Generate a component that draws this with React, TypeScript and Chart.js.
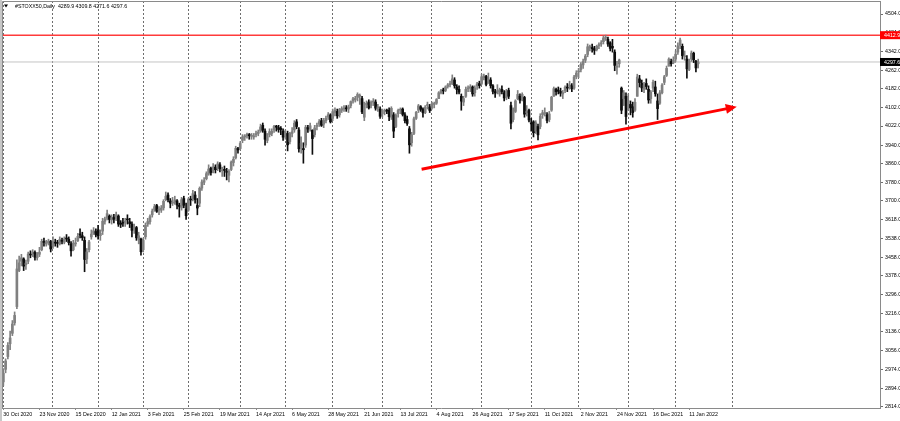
import React, { useEffect, useRef } from "react";
import { Chart, registerables } from "chart.js";

Chart.register(...registerables);

// ---------- data (daily bars, index 0 = 30 Oct 2020, index 308 = 17 Jan 2022) ----------
const opens = [
  2921, 2975, 3030, 3085, 3130, 3175, 3245, 3400, 3440, 3450, 3425, 3440, 3468, 3472, 3478, 3455, 3470, 3490, 3525, 3515, 3520, 3525,
  3505, 3522, 3520, 3515, 3530, 3522, 3540, 3535, 3515, 3490, 3515, 3528, 3555, 3550, 3530, 3450, 3490, 3545, 3560, 3568,
  3575, 3550, 3570, 3612, 3625, 3635, 3618, 3630, 3625, 3635, 3600, 3605, 3608, 3620, 3610, 3600, 3580, 3585, 3535, 3535,
  3490, 3545, 3600, 3610, 3640, 3660, 3680, 3660, 3660, 3670, 3705, 3725, 3700, 3690, 3695, 3700, 3680, 3670, 3710, 3665,
  3660, 3705, 3710, 3725, 3680, 3690, 3755, 3780, 3795, 3815, 3840, 3830, 3845, 3840, 3855, 3830, 3835, 3825, 3810, 3835, 3865, 3885, 3925,
  3925, 3960, 3975, 3980, 3985, 3978, 3975, 3985, 3990, 4000, 4025, 4000, 3960, 3985, 3990, 4005, 4018, 4015, 4012, 4000,
  3980, 3990, 3955, 3990, 4005, 4040, 4005, 3935, 3925, 3940, 4015, 4010, 4005, 3985, 4020, 4030, 4045, 4030, 4045, 4060, 4070,
  4055, 4080, 4085, 4070, 4090, 4095, 4100, 4095, 4110, 4130, 4135, 4145, 4150, 4140, 4060, 4115, 4125, 4110, 4125, 4125, 4100, 4095,
  4075, 4085, 4088, 4090, 4060, 4070, 4020, 4075, 4090, 4095, 4070, 4050, 4010, 3950, 3990, 4055, 4090, 4105, 4095, 4080, 4110, 4105,
  4100, 4115, 4120, 4140, 4165, 4175, 4175, 4192, 4200, 4205, 4220, 4190, 4180, 4150, 4125, 4150, 4182, 4185, 4190, 4165, 4195, 4205,
  4205, 4230, 4235, 4215, 4220, 4195, 4170, 4170, 4160, 4180, 4165, 4145, 4175, 4110, 4050, 4085, 4140, 4150, 4140, 4145, 4080, 4090,
  4035, 4040, 4000, 4020, 4020, 4070, 4075, 4070, 4050, 4090, 4150, 4180, 4175, 4170, 4160, 4175, 4190, 4195, 4195, 4185, 4235,
  4255, 4265, 4285, 4305, 4330, 4360, 4360, 4355, 4350, 4368, 4375, 4385, 4400, 4395, 4380, 4365, 4340, 4275, 4290, 4185, 4140, 4150,
  4100, 4115, 4105, 4090, 4150, 4225, 4205, 4180, 4205, 4180, 4140, 4185, 4190, 4130, 4120, 4165, 4210, 4240, 4280, 4300, 4295,
  4310, 4340, 4370, 4365, 4320, 4310, 4265, 4310, 4335, 4300, 4289.9,
];
const highs = [
  2978, 3020, 3090, 3140, 3185, 3222, 3446, 3462, 3470, 3455, 3445, 3480, 3485, 3490, 3485, 3478, 3500, 3535, 3540, 3530, 3535, 3530,
  3545, 3535, 3530, 3545, 3540, 3545, 3555, 3545, 3525, 3530, 3540, 3560, 3580, 3565, 3545, 3495, 3530, 3575, 3585, 3580,
  3595, 3575, 3625, 3630, 3660, 3640, 3640, 3642, 3652, 3640, 3615, 3625, 3625, 3640, 3625, 3610, 3600, 3590, 3565, 3540,
  3540, 3605, 3625, 3640, 3665, 3685, 3685, 3675, 3680, 3705, 3738, 3735, 3710, 3715, 3720, 3705, 3690, 3715, 3720, 3690,
  3712, 3720, 3745, 3740, 3710, 3760, 3790, 3800, 3825, 3855, 3845, 3860, 3855, 3868, 3865, 3845, 3850, 3840, 3835, 3872, 3890, 3935, 3930,
  3955, 3985, 3985, 3992, 3990, 3990, 3990, 4000, 4005, 4030, 4035, 4010, 3990, 4010, 4010, 4025, 4025, 4025, 4020, 4010,
  4005, 4000, 3995, 4015, 4045, 4050, 4015, 3975, 3950, 4025, 4025, 4035, 4005, 4025, 4035, 4050, 4055, 4055, 4065, 4080, 4075,
  4095, 4100, 4095, 4098, 4105, 4110, 4110, 4112, 4130, 4145, 4150, 4165, 4160, 4150, 4125, 4130, 4135, 4130, 4140, 4135, 4115, 4105,
  4095, 4095, 4095, 4100, 4105, 4080, 4075, 4095, 4100, 4100, 4080, 4065, 4020, 3995, 4060, 4085, 4115, 4110, 4100, 4110, 4125, 4115,
  4125, 4125, 4140, 4170, 4180, 4185, 4195, 4205, 4215, 4242, 4230, 4200, 4195, 4160, 4150, 4190, 4195, 4200, 4195, 4195, 4210, 4215,
  4245, 4245, 4240, 4250, 4230, 4200, 4180, 4200, 4185, 4195, 4175, 4180, 4185, 4125, 4100, 4135, 4175, 4160, 4165, 4150, 4110, 4095,
  4055, 4045, 4045, 4030, 4075, 4090, 4100, 4080, 4085, 4150, 4190, 4185, 4190, 4185, 4175, 4195, 4205, 4215, 4205, 4240, 4260,
  4270, 4295, 4310, 4330, 4375, 4370, 4375, 4365, 4370, 4380, 4390, 4410, 4413, 4405, 4385, 4395, 4350, 4300, 4310, 4190, 4175, 4165,
  4160, 4130, 4125, 4140, 4245, 4240, 4220, 4210, 4225, 4195, 4175, 4220, 4215, 4160, 4175, 4205, 4240, 4280, 4315, 4310, 4320,
  4345, 4380, 4400, 4375, 4345, 4325, 4310, 4345, 4340, 4305, 4309.8,
];
const lows = [
  2905, 2960, 3020, 3060, 3120, 3165, 3236, 3395, 3420, 3400, 3405, 3430, 3455, 3460, 3445, 3445, 3460, 3485, 3505, 3505, 3510, 3480,
  3495, 3505, 3500, 3510, 3515, 3515, 3525, 3510, 3462, 3485, 3505, 3525, 3540, 3530, 3395, 3430, 3480, 3535, 3555, 3545,
  3535, 3530, 3555, 3600, 3618, 3605, 3600, 3605, 3615, 3590, 3585, 3590, 3590, 3600, 3585, 3545, 3560, 3530, 3515, 3466,
  3480, 3535, 3590, 3600, 3630, 3655, 3650, 3640, 3650, 3660, 3700, 3695, 3670, 3680, 3685, 3665, 3630, 3660, 3670, 3620,
  3655, 3680, 3700, 3690, 3640, 3675, 3745, 3770, 3790, 3810, 3810, 3820, 3820, 3830, 3825, 3805, 3805, 3790, 3782, 3830, 3850, 3880, 3905,
  3920, 3950, 3960, 3970, 3965, 3965, 3965, 3975, 3980, 3995, 3995, 3940, 3950, 3975, 3980, 3995, 4000, 3995, 3985, 3960,
  3965, 3915, 3945, 3975, 3995, 4010, 3910, 3905, 3862, 3930, 3995, 4000, 3900, 3975, 4005, 4020, 4020, 4015, 4035, 4050, 4035,
  4045, 4065, 4055, 4060, 4080, 4085, 4085, 4080, 4100, 4120, 4125, 4130, 4115, 4075, 4045, 4100, 4095, 4100, 4110, 4090, 4085, 4055,
  4060, 4070, 4075, 4045, 4050, 3972, 4015, 4060, 4075, 4065, 4035, 4025, 3905, 3935, 3985, 4050, 4080, 4085, 4060, 4075, 4095, 4080,
  4095, 4100, 4115, 4140, 4160, 4160, 4170, 4185, 4190, 4200, 4185, 4160, 4160, 4090, 4110, 4145, 4170, 4170, 4150, 4150, 4180, 4185,
  4200, 4220, 4195, 4205, 4185, 4160, 4145, 4160, 4150, 4160, 4130, 4135, 4140, 4010, 4040, 4080, 4135, 4120, 4130, 4060, 4065, 4040,
  4000, 3975, 3990, 3962, 4010, 4055, 4065, 4035, 4040, 4085, 4150, 4155, 4160, 4150, 4140, 4165, 4170, 4180, 4170, 4180, 4225,
  4230, 4255, 4270, 4295, 4320, 4345, 4340, 4330, 4345, 4355, 4365, 4375, 4390, 4365, 4345, 4340, 4260, 4245, 4275, 4075, 4110, 4030,
  4090, 4070, 4060, 4085, 4150, 4190, 4170, 4165, 4180, 4120, 4120, 4170, 4150, 4050, 4115, 4160, 4200, 4235, 4280, 4280, 4290,
  4300, 4330, 4355, 4310, 4305, 4228, 4260, 4300, 4295, 4255, 4271.6,
];
const closes = [
  2958, 3011, 3078, 3110, 3170, 3207, 3407, 3433, 3455, 3419, 3432, 3471, 3467, 3480, 3457, 3468, 3479, 3526, 3521, 3522, 3527, 3493,
  3525, 3518, 3517, 3534, 3526, 3535, 3536, 3520, 3485, 3517, 3519, 3547, 3553, 3542, 3448, 3480, 3523, 3557, 3571, 3554,
  3550, 3560, 3612, 3622, 3645, 3620, 3627, 3621, 3640, 3600, 3599, 3604, 3612, 3618, 3602, 3573, 3586, 3541, 3550, 3481,
  3530, 3595, 3611, 3632, 3656, 3675, 3655, 3663, 3669, 3698, 3720, 3705, 3690, 3691, 3704, 3682, 3676, 3705, 3681, 3636,
  3706, 3704, 3731, 3705, 3669, 3754, 3781, 3787, 3817, 3837, 3822, 3846, 3834, 3859, 3838, 3830, 3831, 3823, 3827, 3867, 3879, 3926, 3919,
  3947, 3975, 3977, 3986, 3980, 3979, 3980, 3988, 3996, 4018, 4004, 3965, 3981, 3998, 3999, 4020, 4017, 4007, 4007, 3974,
  3992, 3941, 3990, 3997, 4034, 4020, 3924, 3948, 3920, 4017, 4009, 4023, 3968, 4014, 4025, 4041, 4025, 4046, 4055, 4071, 4040,
  4084, 4090, 4066, 4093, 4097, 4097, 4096, 4105, 4127, 4139, 4141, 4158, 4150, 4083, 4118, 4118, 4100, 4124, 4126, 4099, 4101, 4064,
  4083, 4085, 4086, 4062, 4098, 4000, 4069, 4089, 4092, 4072, 4045, 4033, 3941, 3985, 4053, 4081, 4109, 4094, 4079, 4103, 4114, 4089,
  4118, 4117, 4136, 4165, 4175, 4173, 4190, 4199, 4202, 4225, 4195, 4179, 4168, 4129, 4140, 4180, 4183, 4191, 4160, 4186, 4203, 4196,
  4234, 4237, 4201, 4222, 4196, 4171, 4164, 4170, 4178, 4170, 4143, 4173, 4150, 4034, 4090, 4130, 4158, 4133, 4158, 4073, 4084, 4048,
  4031, 3993, 4036, 3984, 4064, 4079, 4080, 4046, 4074, 4146, 4183, 4170, 4172, 4163, 4166, 4189, 4185, 4197, 4183, 4233, 4250,
  4258, 4287, 4300, 4323, 4363, 4360, 4355, 4348, 4365, 4370, 4380, 4401, 4401, 4375, 4356, 4358, 4283, 4277, 4306, 4090, 4165, 4063,
  4130, 4100, 4080, 4124, 4233, 4209, 4186, 4199, 4192, 4134, 4168, 4210, 4161, 4097, 4165, 4198, 4234, 4270, 4310, 4290, 4306,
  4331, 4367, 4392, 4325, 4324, 4268, 4300, 4336, 4307, 4272, 4297.6,
];

// monthly grid lines (bar index of first trading day of each month)
const gridBars = [0, 22, 42, 62, 82, 105, 125, 146, 168, 190, 212, 234, 255, 277, 298, 323];
// time labels, one every 16 bars
const dateLabels = [
  "30 Oct 2020", "23 Nov 2020", "15 Dec 2020", "12 Jan 2021", "3 Feb 2021", "25 Feb 2021", "19 Mar 2021",
  "14 Apr 2021", "6 May 2021", "28 May 2021", "21 Jun 2021", "13 Jul 2021", "4 Aug 2021", "26 Aug 2021",
  "17 Sep 2021", "11 Oct 2021", "2 Nov 2021", "24 Nov 2021", "16 Dec 2021", "11 Jan 2022",
];
const labelStep = 16;
const priceTicks = [
  4504, 4424, 4342, 4262, 4182, 4102, 4022, 3940, 3860, 3780, 3700, 3618, 3538, 3458, 3378, 3296, 3216, 3136, 3056, 2974, 2894, 2814,
];
const resistanceLevel = 4412.9;
const lastPrice = 4297.6;
const trendStart = { x: 185.4, y: 3836 };
const trendEnd = { x: 322.5, y: 4100 };
const titleText = "#STOXX50,Daily  4289.9 4309.8 4271.6 4297.6";

const X_MIN = -0.6;
const X_MAX = 388.6;
const Y_MIN = 2808.6;
const Y_MAX = 4560;

const FONT = "'Liberation Sans', Arial, sans-serif";
const UP_COLOR = "#808080";
const DOWN_COLOR = "#0d0d0d";

export default function App() {
  const canvasRef = useRef<HTMLCanvasElement | null>(null);

  useEffect(() => {
    const canvas = canvasRef.current;
    if (!canvas) return;
    const idx = closes.map((_, i) => i);
    const isUp = idx.map((i) => closes[i] >= opens[i]);
    const colors = idx.map((i) => (isUp[i] ? UP_COLOR : DOWN_COLOR));

    const overlay = {
      id: "overlay",
      beforeDraw(chart: any) {
        const { ctx } = chart;
        ctx.save();
        ctx.fillStyle = "#ffffff";
        ctx.fillRect(0, 0, chart.width, chart.height);
        ctx.restore();
      },
      afterDatasetsDraw(chart: any) {
        const { ctx } = chart;
        const xs = chart.scales.x;
        const ys = chart.scales.y;
        const x1 = xs.getPixelForValue(trendStart.x);
        const y1 = ys.getPixelForValue(trendStart.y);
        const x2 = xs.getPixelForValue(trendEnd.x);
        const y2 = ys.getPixelForValue(trendEnd.y);
        const a = Math.atan2(y2 - y1, x2 - x1);
        const tipX = x2 + Math.cos(a) * 6;
        const tipY = y2 + Math.sin(a) * 6;
        const bx = tipX - Math.cos(a) * 11;
        const by = tipY - Math.sin(a) * 11;
        const px = -Math.sin(a) * 5;
        const py = Math.cos(a) * 5;
        ctx.save();
        ctx.fillStyle = "#ff0000";
        ctx.beginPath();
        ctx.moveTo(tipX, tipY);
        ctx.lineTo(bx + px, by + py);
        ctx.lineTo(bx - px, by - py);
        ctx.closePath();
        ctx.fill();
        ctx.restore();
      },
      afterDraw(chart: any) {
        const { ctx, chartArea } = chart;
        const ys = chart.scales.y;
        ctx.save();
        // frame
        ctx.strokeStyle = "#8a8a8a";
        ctx.lineWidth = 1;
        ctx.beginPath();
        ctx.moveTo(chartArea.left + 0.5, chartArea.bottom);
        ctx.lineTo(chartArea.left + 0.5, chartArea.top + 0.5);
        ctx.lineTo(chartArea.right, chartArea.top + 0.5);
        ctx.stroke();
        ctx.fillStyle = "#c8c8c8";
        ctx.fillRect(0, 0, chartArea.left, chart.height);
        // price boxes on axis
        const box = (val: number, bg: string) => {
          const y = ys.getPixelForValue(val);
          ctx.fillStyle = bg;
          ctx.fillRect(chartArea.right, y - 4, chart.width - chartArea.right, 8);
          ctx.fillStyle = "#ffffff";
          ctx.font = `5.3px ${FONT}`;
          ctx.textBaseline = "middle";
          ctx.textAlign = "left";
          ctx.fillText(val.toFixed(1), chartArea.right + 4, y + 0.3);
        };
        box(resistanceLevel, "#ff0000");
        box(lastPrice, "#000000");
        // title
        ctx.fillStyle = "#000000";
        ctx.beginPath();
        ctx.moveTo(4, 4.5);
        ctx.lineTo(8, 4.5);
        ctx.lineTo(6, 7.5);
        ctx.closePath();
        ctx.fill();
        ctx.font = `5.3px ${FONT}`;
        ctx.textBaseline = "middle";
        ctx.textAlign = "left";
        ctx.fillText(titleText, 15, 6.5);
        ctx.restore();
      },
    };

    const chart = new Chart(canvas, {
      type: "bar",
      data: {
        datasets: [
          {
            type: "line",
            label: "resistance",
            data: [
              { x: X_MIN, y: resistanceLevel },
              { x: X_MAX, y: resistanceLevel },
            ],
            borderColor: "#ff3b3b",
            borderWidth: 1.5,
            pointRadius: 0,
            order: 5,
          },
          {
            type: "line",
            label: "last",
            data: [
              { x: X_MIN, y: lastPrice },
              { x: X_MAX, y: lastPrice },
            ],
            borderColor: "#c4c4c4",
            borderWidth: 1,
            pointRadius: 0,
            order: 6,
          },
          {
            type: "bar",
            label: "wicks",
            data: idx.map((i) => ({ x: i, y: [lows[i], highs[i]] })) as any,
            backgroundColor: colors,
            barThickness: 1,
            grouped: false,
            order: 4,
          } as any,
          {
            type: "bar",
            label: "bodies",
            data: idx.map((i) => ({
              x: i,
              y: [Math.min(opens[i], closes[i]), Math.max(opens[i], closes[i])],
            })) as any,
            backgroundColor: colors,
            barThickness: 2,
            minBarLength: 1,
            grouped: false,
            order: 3,
          } as any,
          {
            type: "line",
            label: "trend",
            data: [trendStart, trendEnd],
            borderColor: "#ff0000",
            borderWidth: 3,
            pointRadius: 0,
            borderCapStyle: "butt",
            order: 0,
          },
        ],
      },
      options: {
        animation: false,
        responsive: false,
        maintainAspectRatio: false,
        events: [],
        layout: { padding: { left: 2, top: 1, right: 0, bottom: 0 } },
        plugins: { legend: { display: false }, tooltip: { enabled: false }, title: { display: false } },
        scales: {
          x: {
            type: "linear",
            position: "bottom",
            min: X_MIN,
            max: X_MAX,
            offset: false,
            afterBuildTicks: (s: any) => {
              s.ticks = gridBars.map((v) => ({ value: v }));
            },
            afterFit: (s: any) => {
              s.height = 0;
              s.paddingLeft = 0;
              s.paddingRight = 0;
            },
            ticks: { display: false },
            grid: { display: true, color: "#6e6e6e", lineWidth: 1, drawTicks: false, offset: false },
            border: { display: false, dash: [2, 2] },
          },
          xl: {
            type: "linear",
            position: "bottom",
            min: X_MIN,
            max: X_MAX,
            offset: false,
            afterBuildTicks: (s: any) => {
              s.ticks = dateLabels.map((_, k) => ({ value: k * labelStep }));
            },
            afterFit: (s: any) => {
              s.height = 13;
              s.paddingLeft = 0;
              s.paddingRight = 0;
            },
            ticks: {
              autoSkip: false,
              maxRotation: 0,
              minRotation: 0,
              align: "start",
              padding: 1,
              color: "#000000",
              font: { family: FONT, size: 5.3 },
              callback: (_v: any, k: number) => dateLabels[k],
            },
            grid: { display: true, drawOnChartArea: false, drawTicks: true, tickLength: 2, color: "#8a8a8a", offset: false },
            border: { display: true, color: "#8a8a8a" },
          },
          y: {
            type: "linear",
            position: "right",
            min: Y_MIN,
            max: Y_MAX,
            afterBuildTicks: (s: any) => {
              s.ticks = priceTicks.map((v) => ({ value: v }));
            },
            afterFit: (s: any) => {
              s.width = 20;
              s.paddingTop = 0;
              s.paddingBottom = 0;
            },
            ticks: {
              autoSkip: false,
              padding: 2,
              color: "#000000",
              font: { family: FONT, size: 5.3 },
              callback: (v: any) => Number(v).toFixed(1),
            },
            grid: { display: true, drawOnChartArea: false, drawTicks: true, tickLength: 3, color: "#6e6e6e" },
            border: { display: true, color: "#8a8a8a" },
          },
        },
      },
      plugins: [overlay],
    } as any);

    return () => chart.destroy();
  }, []);

  return (
    <div style={{ position: "absolute", left: 0, top: 0, width: 900, height: 421, background: "#fff" }}>
      <canvas ref={canvasRef} width={900} height={421} style={{ width: 900, height: 421, display: "block" }} />
    </div>
  );
}
